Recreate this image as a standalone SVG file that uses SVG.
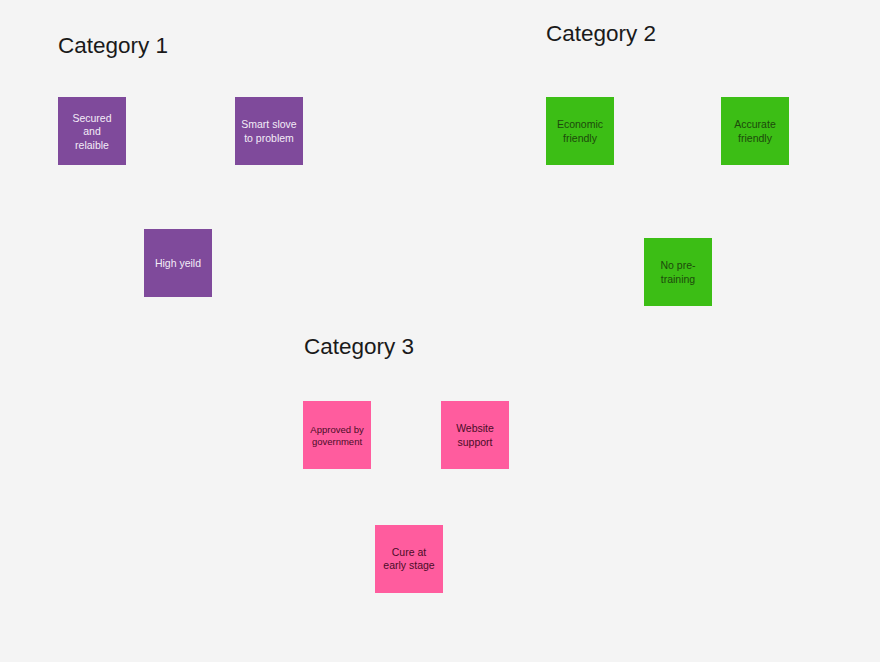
<svg xmlns="http://www.w3.org/2000/svg" width="880" height="662" viewBox="0 0 880 662">
<style>
.bg{fill:#f4f4f4}
.title{font-family:"Liberation Sans",Arial,sans-serif;font-size:22.5px;fill:#1a1a1a}
.note{stroke:none}
.p{fill:#7f4a9b}
.g{fill:#3cbe15}
.k{fill:#ff5c9e}
.t{font-family:"Liberation Sans",Arial,sans-serif;font-size:10.5px;text-anchor:middle}
.tp{fill:#f3ecf7}
.tg{fill:#1d4a0c}
.tk{fill:#4a0d28}
</style>
<rect class="bg" x="0" y="0" width="880" height="662"/>
<g id="titles">
<text class="title" x="58" y="52.5">Category 1</text>
<text class="title" x="546" y="40.5">Category 2</text>
<text class="title" x="304" y="353.5">Category 3</text>
</g>
<g id="connectors"></g>
<g id="n-secured">
<rect class="note p" x="58" y="97" width="68" height="68"/>
<text class="t tp" x="92" y="121.5">Secured</text>
<text class="t tp" x="92" y="135">and</text>
<text class="t tp" x="92" y="148.5">relaible</text>
</g>
<g id="n-smart">
<rect class="note p" x="235" y="97" width="68" height="68"/>
<text class="t tp" x="269" y="128">Smart slove</text>
<text class="t tp" x="269" y="141.5">to problem</text>
</g>
<g id="n-high">
<rect class="note p" x="144" y="229" width="68" height="68"/>
<text class="t tp" x="178" y="266.5">High yeild</text>
</g>
<g id="n-economic">
<rect class="note g" x="546" y="97" width="68" height="68"/>
<text class="t tg" x="580" y="128">Economic</text>
<text class="t tg" x="580" y="141.5">friendly</text>
</g>
<g id="n-accurate">
<rect class="note g" x="721" y="97" width="68" height="68"/>
<text class="t tg" x="755" y="128">Accurate</text>
<text class="t tg" x="755" y="141.5">friendly</text>
</g>
<g id="n-nopre">
<rect class="note g" x="644" y="238" width="68" height="68"/>
<text class="t tg" x="678" y="269">No pre-</text>
<text class="t tg" x="678" y="283">training</text>
</g>
<g id="n-approved">
<rect class="note k" x="303" y="401" width="68" height="68"/>
<text class="t tk" x="337" y="433" style="font-size:9.5px">Approved by</text>
<text class="t tk" x="337" y="445" style="font-size:9.5px">government</text>
</g>
<g id="n-website">
<rect class="note k" x="441" y="401" width="68" height="68"/>
<text class="t tk" x="475" y="432">Website</text>
<text class="t tk" x="475" y="446">support</text>
</g>
<g id="n-cure">
<rect class="note k" x="375" y="525" width="68" height="68"/>
<text class="t tk" x="409" y="555.5">Cure at</text>
<text class="t tk" x="409" y="569">early stage</text>
</g>
</svg>
